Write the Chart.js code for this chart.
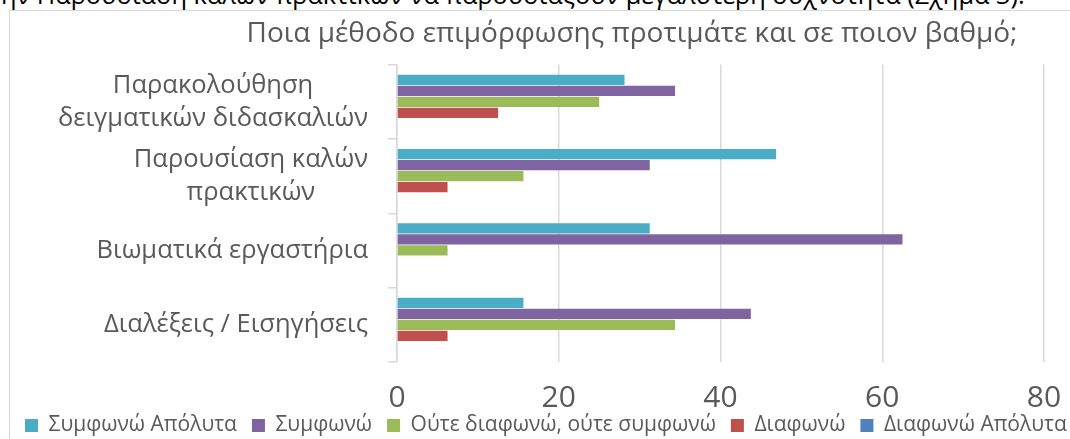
<!DOCTYPE html>
<html lang="el">
<head>
<meta charset="utf-8">
<title>Ποια μέθοδο επιμόρφωσης προτιμάτε</title>
<script src="https://cdn.jsdelivr.net/npm/chart.js@4"></script>
<style>
  html, body { margin: 0; padding: 0; background: #fff; overflow: hidden; width: 1070px; height: 439px; }
  #caption {
    position: absolute; left: 1px; top: -18px; white-space: nowrap;
    font-family: "Open Sans", sans-serif; font-size: 25.3px; line-height: 25px; color: #000;
  }
  #frame {
    position: absolute; left: 9px; top: 10px;
    border: 1px solid #d9d9d9; width: 1244px; height: 480px;
  }
  #chart { display: block; }
</style>
</head>
<body>
<div id="caption">ην Παρουσίαση καλών πρακτικών να παρουσιάζουν μεγαλύτερη συχνότητα (Σχήμα 3).</div>
<div id="frame"><canvas id="chart" width="1244" height="469"></canvas></div>
<script>
// data (percent of answers)
const categories = [
  ['Παρακολούθηση', 'δειγματικών διδασκαλιών'],
  ['Παρουσίαση καλών', 'πρακτικών'],
  ['Βιωματικά εργαστήρια'],
  ['Διαλέξεις / Εισηγήσεις']
];
const seriesNames = ['Συμφωνώ Απόλυτα', 'Συμφωνώ', 'Ούτε διαφωνώ, ούτε συμφωνώ', 'Διαφωνώ', 'Διαφωνώ Απόλυτα'];
const agreeFully = [28.13, 46.88, 31.25, 15.63];
const agree = [34.38, 31.25, 62.5, 43.75];
const neutral = [25, 15.63, 6.25, 34.38];
const disagree = [12.5, 6.25, 0, 6.25];
const disagreeFully = [0, 0, 0, 0];
const xTicks = [0, 20, 40, 60, 80];

const colors = ['#4bacc6', '#8064a2', '#9bbb59', '#c0504d', '#4f81bd'];
const textColor = '#595959';
const gridColor = '#d9d9d9';
const labelFont = '25.5px "Open Sans", sans-serif';

// category labels: each block right aligned, its lines centered
const categoryLabels = {
  id: 'categoryLabels',
  afterLayout(chart) {
    // pull the legend up under the tick labels
    const lg = chart.legend;
    const h = lg.bottom - lg.top;
    lg.top = chart.chartArea.bottom + 38;
    lg.bottom = lg.top + h;
  },
  afterDraw(chart) {
    const scale = chart.scales.y;
    const ctx = chart.ctx;
    const lineHeight = 33;
    ctx.save();
    ctx.font = labelFont;
    ctx.fillStyle = textColor;
    ctx.textAlign = 'center';
    ctx.textBaseline = 'middle';
    categories.forEach((lines, i) => {
      const y = scale.getPixelForTick(i);
      const widest = Math.max(...lines.map(l => ctx.measureText(l).width));
      const cx = scale.right - 29 - widest / 2;
      lines.forEach((line, j) => {
        ctx.fillText(line, cx, y + (j - (lines.length - 1) / 2) * lineHeight);
      });
    });
    ctx.restore();
  }
};

const seriesValues = [agreeFully, agree, neutral, disagree, disagreeFully];

new Chart(document.getElementById('chart'), {
  type: 'bar',
  data: {
    labels: categories.map(c => c.join(' ')),
    datasets: seriesNames.map((name, i) => ({
      label: name,
      data: seriesValues[i],
      backgroundColor: colors[i],
      borderWidth: 0,
      categoryPercentage: 0.74,
      barPercentage: 0.93
    }))
  },
  options: {
    indexAxis: 'y',
    responsive: false,
    animation: false,
    events: [],
    plugins: {
      title: {
        display: true,
        text: 'Ποια μέθοδο επιμόρφωσης προτιμάτε και σε ποιον βαθμό;',
        color: textColor,
        font: { family: '"Open Sans", sans-serif', size: 28, weight: 'normal', lineHeight: 1.2 },
        padding: { top: 6, bottom: 14 }
      },
      legend: {
        position: 'bottom',
        align: 'start',
        labels: {
          color: textColor,
          font: { family: '"Open Sans", sans-serif', size: 21 },
          boxWidth: 13,
          boxHeight: 13,
          padding: 15
        }
      },
      tooltip: { enabled: false }
    },
    scales: {
      x: {
        min: 0,
        max: 80,
        afterBuildTicks: s => { s.ticks = xTicks.map(v => ({ value: v })); },
        grid: { color: gridColor, lineWidth: 1.5, drawTicks: false },
        border: { display: false },
        ticks: {
          color: textColor,
          padding: 21,
          font: { family: '"Open Sans", sans-serif', size: 30, lineHeight: 1.0 }
        }
      },
      y: {
        afterFit: s => { s.width = 387; },
        grid: { color: gridColor, lineWidth: 1.5, drawOnChartArea: false, drawTicks: true, tickLength: 9 },
        border: { color: gridColor, width: 1.5 },
        ticks: { display: false }
      },
      y2: {
        type: 'linear',
        position: 'right',
        afterFit: s => { s.width = 210; },
        grid: { display: false },
        border: { display: false },
        ticks: { display: false }
      }
    }
  },
  plugins: [categoryLabels]
});
</script>
</body>
</html>
